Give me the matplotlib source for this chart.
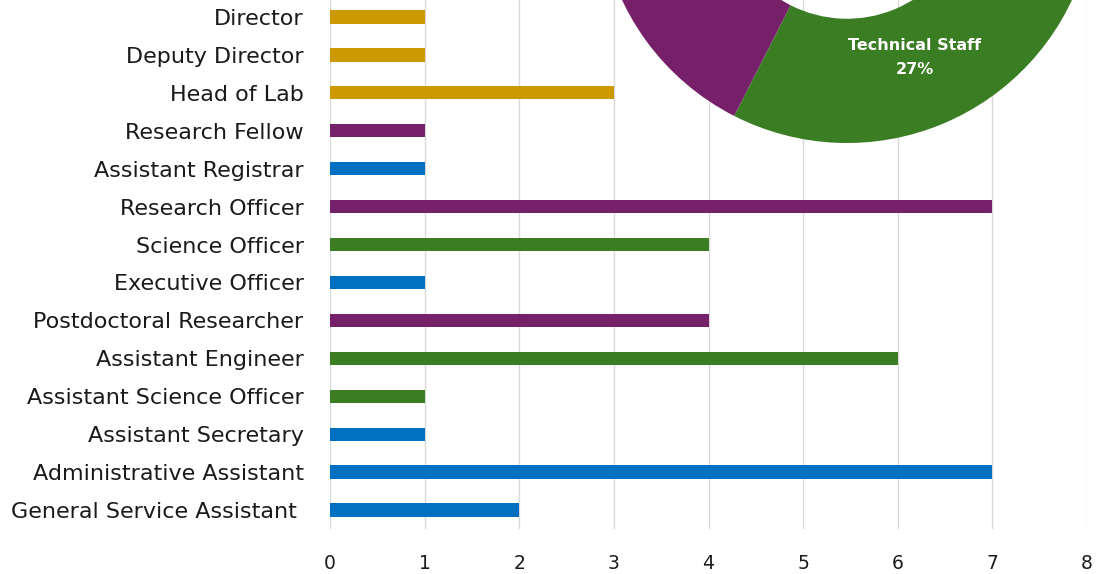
import numpy as np
import matplotlib
matplotlib.use("Agg")
from matplotlib import pyplot as plt

plt.rcParams['font.family'] = ['DejaVu Sans']

# bar data, top to bottom as in the chart
roles = ["Director", "Deputy Director", "Head of Lab", "Research Fellow",
         "Assistant Registrar", "Research Officer", "Science Officer",
         "Executive Officer", "Postdoctoral Researcher", "Assistant Engineer",
         "Assistant Science Officer", "Assistant Secretary",
         "Administrative Assistant", "General Service Assistant "]
counts = [1, 1, 3, 1, 1, 7, 4, 1, 4, 6, 1, 1, 7, 2]
groups = ["Management", "Management", "Management", "Research",
          "Admin", "Research", "Technical", "Admin", "Research",
          "Technical", "Technical", "Admin", "Admin", "Admin"]

colours = {"Management": "#CC9900", "Research": "#76206A",
           "Technical": "#3B7D23", "Admin": "#0070C0"}

# donut data (clockwise from the top)
donut_groups = ["Admin", "Technical", "Research", "Management"]
donut_names = ["Admin Staff", "Technical Staff", "Research Staff", "Management"]
donut_values = [12, 11, 12, 5]
donut_pct = ["30%", "27%", "30%", "13%"]

fig = plt.figure(figsize=(11.04, 5.74), dpi=100)

ax = fig.add_axes([330 / 1104, 45 / 574, (1087 - 330) / 1104, 531 / 574])
y = np.arange(len(roles))[::-1]
ax.barh(y, counts, height=0.35, color=[colours[g] for g in groups], zorder=3)
ax.set_xlim(0, 8)
ax.set_ylim(-0.5, len(roles) - 0.5)
ax.set_xticks(range(9))
ax.set_yticks(y)
ax.set_yticklabels(roles, fontsize=16, color="#1a1a1a")
ax.tick_params(axis="x", length=0, pad=18, labelsize=13.5, labelcolor="#1a1a1a")
ax.tick_params(axis="y", length=0, pad=19)
ax.grid(axis="x", color="#D9D9D9", linewidth=1, zorder=0)
for s in ax.spines.values():
    s.set_visible(False)

# donut inset, partly outside the figure
R = 248.5
cx, cy = 847, 574 + 105.5
dax = fig.add_axes([(cx - R) / 1104, (cy - R) / 574, 2 * R / 1104, 2 * R / 574])
wedges, texts = dax.pie(donut_values,
                        colors=[colours[g] for g in donut_groups],
                        startangle=90, counterclock=False, radius=1,
                        wedgeprops=dict(width=0.5, linewidth=0),
                        labels=[n + "\n" + p for n, p in zip(donut_names, donut_pct)],
                        labeldistance=0.71,
                        textprops=dict(color="white", fontsize=11.5,
                                       fontweight="bold", linespacing=1.8))
dax.set_xlim(-1, 1)
dax.set_ylim(-1, 1)
dax.set_aspect("equal")
dax.axis("off")
for t in texts:
    t.set_ha("center")
    t.set_va("center")
    # labels of slices above the figure edge are not shown
    px = dax.transData.transform(t.get_position())
    if px[1] > 574 - 20:
        t.set_visible(False)

fig.savefig("out.png", dpi=100)
